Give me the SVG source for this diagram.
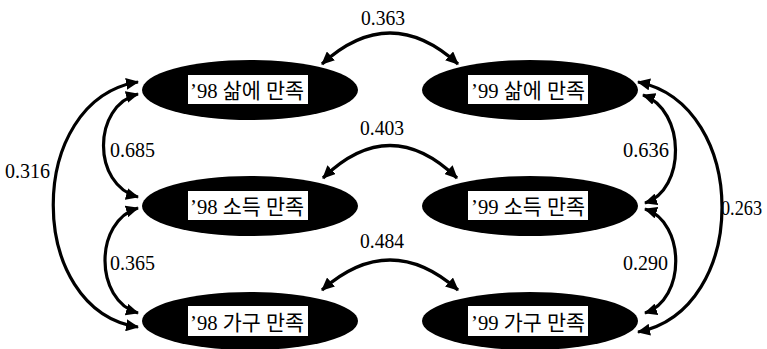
<svg xmlns="http://www.w3.org/2000/svg" width="767" height="349" viewBox="0 0 767 349">
<style>
.ell{fill:#000}
.box{fill:#fff}
.nt{font-family:"Liberation Serif","Noto Sans CJK KR",serif;font-size:21px;fill:#000}
.lb{font-family:"Liberation Serif",serif;font-size:21px;fill:#000}
.c{fill:none;stroke:#000;stroke-width:3.2;marker-start:url(#ah);marker-end:url(#ah)}
</style>
<defs>
<marker id="ah" markerUnits="userSpaceOnUse" markerWidth="14" markerHeight="12" viewBox="0 0 14 12" refX="12" refY="6" orient="auto-start-reverse">
<path d="M0,0 L13,6 L0,12 Z" fill="#000"/>
</marker>
</defs>
<rect width="767" height="349" fill="#fff"/>
<g id="n98life">
<ellipse class="ell" cx="250" cy="90" rx="108" ry="30"/>
<rect class="box" x="188" y="75" width="120" height="29"/>
<text class="nt" x="190" y="98" textLength="114" lengthAdjust="spacingAndGlyphs">’98 삶에 만족</text>
</g>
<g id="n99life">
<ellipse class="ell" cx="530" cy="90" rx="108" ry="30"/>
<rect class="box" x="468" y="75" width="120" height="29"/>
<text class="nt" x="471" y="98" textLength="114" lengthAdjust="spacingAndGlyphs">’99 삶에 만족</text>
</g>
<g id="n98inc">
<ellipse class="ell" cx="250" cy="206" rx="108" ry="30"/>
<rect class="box" x="188" y="191" width="120" height="29"/>
<text class="nt" x="190" y="214" textLength="114" lengthAdjust="spacingAndGlyphs">’98 소득 만족</text>
</g>
<g id="n99inc">
<ellipse class="ell" cx="530" cy="206" rx="108" ry="30"/>
<rect class="box" x="468" y="191" width="120" height="29"/>
<text class="nt" x="471" y="214" textLength="114" lengthAdjust="spacingAndGlyphs">’99 소득 만족</text>
</g>
<g id="n98home">
<ellipse class="ell" cx="250" cy="321" rx="108" ry="29"/>
<rect class="box" x="188" y="306" width="120" height="30"/>
<text class="nt" x="190" y="330" textLength="114" lengthAdjust="spacingAndGlyphs">’98 가구 만족</text>
</g>
<g id="n99home">
<ellipse class="ell" cx="530" cy="321" rx="108" ry="29"/>
<rect class="box" x="468" y="306" width="120" height="30"/>
<text class="nt" x="471" y="330" textLength="114" lengthAdjust="spacingAndGlyphs">’99 가구 만족</text>
</g>
<g id="connectors">
<path class="c" d="M322,64 Q390,2 458,64"/>
<path class="c" d="M323,178 Q390,113 457,178"/>
<path class="c" d="M322,290 Q390,230 458,290"/>
<path class="c" d="M138,82 C25,100 25,310 138,327"/>
<path class="c" d="M138,94 C92,106 92,185 138,197"/>
<path class="c" d="M138,208 C94,221 94,300 138,313"/>
<path class="c" d="M638,82 C750,105 750,310 638,332"/>
<path class="c" d="M643,95 C686,110 686,190 645,203"/>
<path class="c" d="M645,209 C686,222 686,300 645,313"/>
</g>
<g id="labels">
<text class="lb" x="361" y="25" textLength="44" lengthAdjust="spacingAndGlyphs">0.363</text>
<text class="lb" x="360" y="135" textLength="44" lengthAdjust="spacingAndGlyphs">0.403</text>
<text class="lb" x="360" y="248" textLength="44" lengthAdjust="spacingAndGlyphs">0.484</text>
<text class="lb" x="5" y="178" textLength="45" lengthAdjust="spacingAndGlyphs">0.316</text>
<text class="lb" x="110" y="157" textLength="45" lengthAdjust="spacingAndGlyphs">0.685</text>
<text class="lb" x="110" y="270" textLength="45" lengthAdjust="spacingAndGlyphs">0.365</text>
<text class="lb" x="623" y="157" textLength="46" lengthAdjust="spacingAndGlyphs">0.636</text>
<text class="lb" x="623" y="270" textLength="45" lengthAdjust="spacingAndGlyphs">0.290</text>
<text class="lb" x="721" y="215" textLength="41" lengthAdjust="spacingAndGlyphs">0.263</text>
</g>
</svg>
